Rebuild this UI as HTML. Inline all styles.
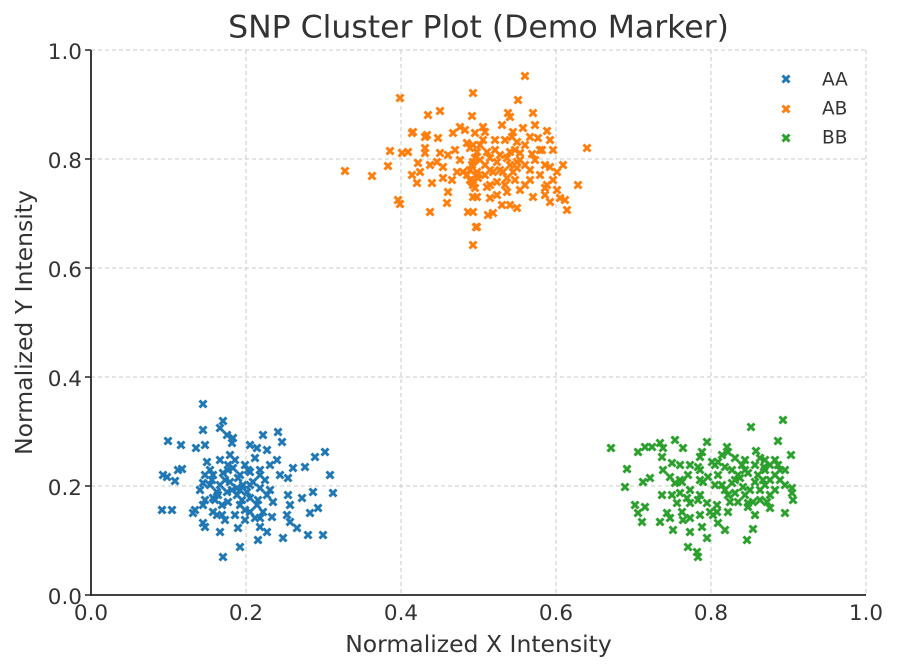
<!DOCTYPE html>
<html>
<head>
<meta charset="utf-8">
<style>
  html, body { margin: 0; padding: 0; background: #ffffff; }
  svg { display: block; }
  text { font-family: "DejaVu Sans", "Liberation Sans", sans-serif; fill: #333333; }
</style>
</head>
<body>
<svg xmlns="http://www.w3.org/2000/svg" width="900" height="671" viewBox="0 0 900 671">
  <defs>
    <marker id="mA" markerWidth="12" markerHeight="12" refX="6" refY="6" markerUnits="userSpaceOnUse" overflow="visible">
      <path d="M2.5 2.5L9.5 9.5M2.5 9.5L9.5 2.5" stroke="#1f77b4" stroke-width="3" fill="none"/>
    </marker>
    <marker id="mB" markerWidth="12" markerHeight="12" refX="6" refY="6" markerUnits="userSpaceOnUse" overflow="visible">
      <path d="M2.5 2.5L9.5 9.5M2.5 9.5L9.5 2.5" stroke="#ff7f0e" stroke-width="3" fill="none"/>
    </marker>
    <marker id="mC" markerWidth="12" markerHeight="12" refX="6" refY="6" markerUnits="userSpaceOnUse" overflow="visible">
      <path d="M2.5 2.5L9.5 9.5M2.5 9.5L9.5 2.5" stroke="#2ca02c" stroke-width="3" fill="none"/>
    </marker>
  </defs>
  <rect x="0" y="0" width="900" height="671" fill="#ffffff"/>

  <!-- grid -->
  <g stroke="#c8c8c8" stroke-width="1" stroke-dasharray="4,3" fill="none">
    <line x1="246" y1="50" x2="246" y2="595"/>
    <line x1="401" y1="50" x2="401" y2="595"/>
    <line x1="556" y1="50" x2="556" y2="595"/>
    <line x1="711" y1="50" x2="711" y2="595"/>
    <line x1="866" y1="50" x2="866" y2="595"/>
    <line x1="91" y1="486" x2="866" y2="486"/>
    <line x1="91" y1="377" x2="866" y2="377"/>
    <line x1="91" y1="268" x2="866" y2="268"/>
    <line x1="91" y1="159" x2="866" y2="159"/>
    <line x1="91" y1="50" x2="866" y2="50"/>
  </g>

  <!-- AA -->
  <polyline fill="none" stroke="none" marker-start="url(#mA)" marker-mid="url(#mA)" marker-end="url(#mA)" points="203,404 223,421 220,428 203,430 227,435 233,438 232,443 168,441 181,445 196,448 205,445 278,432 263,435 282,442 250,445 257,448 267,450 325,452 315,457 305,467 293,468 277,460 270,465 207,462 220,460 230,455 228,465 182,469 178,470 163,475 167,477 175,481 203,483 213,475 223,473 233,468 240,475 250,472 260,475 280,475 288,478 330,475 313,492 333,493 302,498 288,495 290,505 287,515 310,513 318,508 290,522 297,528 308,535 323,535 283,538 260,527 258,540 267,532 240,547 238,528 223,557 220,532 203,523 205,527 195,510 193,513 162,510 172,510 203,505 213,498 217,492 227,492 237,488 243,485 247,492 250,498 257,505 263,512 272,517 267,495 273,502 260,488 253,482 210,485 220,485 230,482 217,515 213,512 222,515 250,512 255,518 260,518 237,495 228,502 210,470 245,465 240,505 225,480 250,485 215,500 235,515 260,470 200,490 245,520 205,475 255,458 232,490 242,500 222,505 212,480 238,478 248,470 228,470 218,495 258,500 265,480 235,460 205,500 245,510 225,520 240,490 270,490"/>

  <!-- AB -->
  <polyline fill="none" stroke="none" marker-start="url(#mB)" marker-mid="url(#mB)" marker-end="url(#mB)" points="400,98 473,93 428,115 440,111 472,116 412,133 413,132 427,135 425,137 438,138 453,133 460,127 465,130 390,151 402,153 408,152 425,148 425,153 440,153 448,155 455,150 345,171 372,176 388,166 412,175 418,163 420,172 430,165 437,162 443,167 417,183 432,183 443,178 452,180 457,172 463,172 467,175 470,180 448,192 398,200 400,204 430,212 447,203 468,212 476,227 473,245 470,148 473,145 477,152 475,158 472,165 477,172 473,185 478,178 477,197 467,143 475,133 525,76 518,100 533,113 508,113 510,117 502,125 483,127 485,132 483,140 487,152 523,128 513,132 512,137 517,142 530,137 538,138 547,131 550,140 542,150 553,150 532,154 510,152 520,153 507,158 517,162 497,162 490,158 473,162 587,148 550,167 563,165 557,172 553,180 513,172 517,168 503,172 493,172 485,175 477,175 472,182 475,188 487,187 497,182 507,178 525,185 545,188 547,185 557,190 533,197 550,202 560,198 565,200 567,210 578,185 473,197 490,198 497,195 507,192 517,208 510,205 502,205 488,215 493,213 477,227 473,212 480,160 495,150 500,170 515,180 520,160 490,185 505,140 530,170 460,160 540,175 480,145 525,145 535,160 545,165 500,155 515,150 525,165 490,170 505,185 530,180 485,165 540,150 520,190 495,140 545,195 510,165 470,170 535,125"/>

  <!-- BB -->
  <polyline fill="none" stroke="none" marker-start="url(#mC)" marker-mid="url(#mC)" marker-end="url(#mC)" points="611,448 627,469 625,487 638,452 645,447 652,447 660,443 663,448 675,440 683,448 662,457 672,463 680,465 698,467 707,442 702,452 700,457 643,482 650,478 663,470 670,477 675,483 682,482 688,475 662,495 672,495 680,493 687,498 677,503 690,503 698,500 707,503 635,505 645,507 638,513 642,522 660,522 667,513 670,518 682,512 683,520 690,518 700,515 710,512 713,515 673,530 690,532 702,527 707,538 688,547 697,552 698,557 703,482 708,477 715,485 715,465 712,462 717,505 783,420 751,427 778,441 756,451 791,455 778,465 770,465 764,467 727,447 728,452 722,455 735,458 742,465 718,462 725,467 732,470 738,475 748,473 758,475 763,480 755,482 718,475 722,485 732,483 743,487 792,488 792,493 793,500 728,495 735,493 745,495 730,502 738,502 748,503 753,502 767,502 770,508 755,515 748,507 728,512 717,512 785,513 718,523 725,530 753,529 747,540 690,490 700,470 760,490 770,480 775,475 765,470 740,478 700,495 680,480 775,460 760,458 785,470 745,470 755,465 765,485 775,490 780,480 750,490 735,480 770,495 760,500 780,470 725,490 700,480 690,465 745,460 785,485 765,460"/>

  <!-- spines -->
  <g stroke="#262626" stroke-width="1.8" fill="none">
    <line x1="91" y1="50" x2="91" y2="595.9"/>
    <line x1="90.1" y1="595" x2="866" y2="595"/>
  </g>
  <!-- y ticks -->
  <g stroke="#262626" stroke-width="1.5">
    <line x1="85" y1="595" x2="91" y2="595"/>
    <line x1="85" y1="486" x2="91" y2="486"/>
    <line x1="85" y1="377" x2="91" y2="377"/>
    <line x1="85" y1="268" x2="91" y2="268"/>
    <line x1="85" y1="159" x2="91" y2="159"/>
    <line x1="85" y1="50" x2="91" y2="50"/>
  </g>

  <!-- y tick labels -->
  <g font-size="21.5" text-anchor="end">
    <text x="82" y="604">0.0</text>
    <text x="82" y="495">0.2</text>
    <text x="82" y="386">0.4</text>
    <text x="82" y="277">0.6</text>
    <text x="82" y="168">0.8</text>
    <text x="82" y="59">1.0</text>
  </g>
  <!-- x tick labels -->
  <g font-size="21.5" text-anchor="middle">
    <text x="91" y="620">0.0</text>
    <text x="246" y="620">0.2</text>
    <text x="401" y="620">0.4</text>
    <text x="556" y="620">0.6</text>
    <text x="711" y="620">0.8</text>
    <text x="866" y="620">1.0</text>
  </g>

  <!-- title & axis labels -->
  <text x="478.5" y="37.5" font-size="31.5" text-anchor="middle">SNP Cluster Plot (Demo Marker)</text>
  <text x="478.5" y="652" font-size="23.5" text-anchor="middle">Normalized X Intensity</text>
  <text transform="translate(32,322.5) rotate(-90)" font-size="23.5" text-anchor="middle">Normalized Y Intensity</text>

  <!-- legend -->
  <path fill="none" stroke="#1f77b4" stroke-width="3" d="M782.5 75.5l7 7m0-7l-7 7"/>
  <path fill="none" stroke="#ff7f0e" stroke-width="3" d="M782.5 105.5l7 7m0-7l-7 7"/>
  <path fill="none" stroke="#2ca02c" stroke-width="3" d="M782.5 134.5l7 7m0-7l-7 7"/>
  <g font-size="18.5">
    <text x="822" y="85.5">AA</text>
    <text x="822" y="114.5">AB</text>
    <text x="822" y="143.5">BB</text>
  </g>
</svg>
</body>
</html>
